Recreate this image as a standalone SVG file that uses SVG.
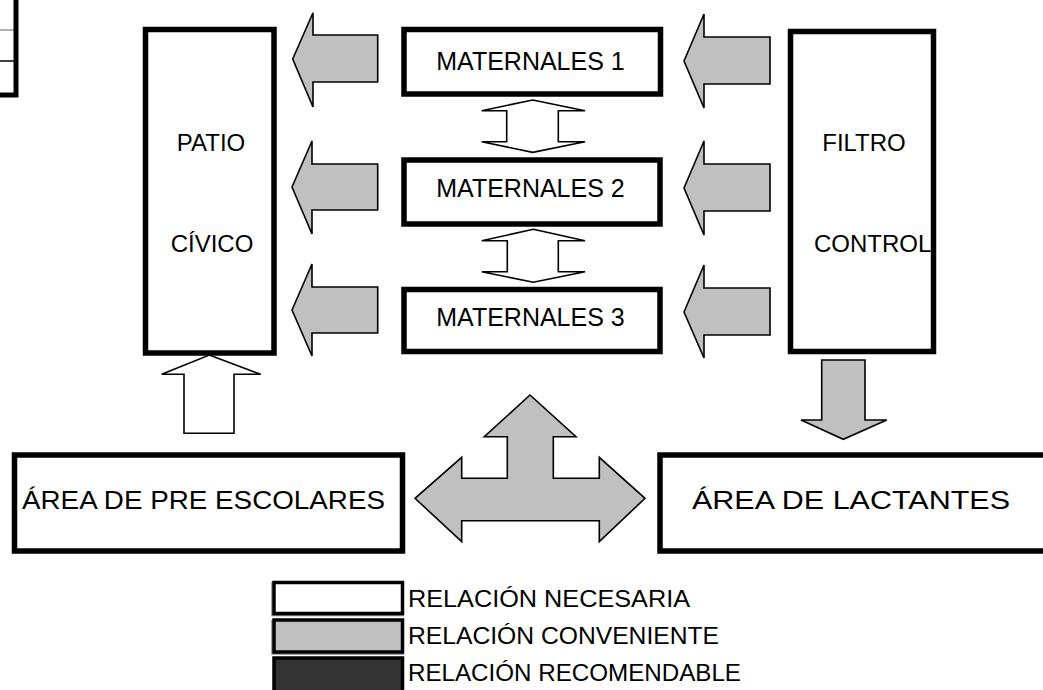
<svg xmlns="http://www.w3.org/2000/svg" width="1043" height="690" viewBox="0 0 1043 690">
<style>
.box{fill:#fff;stroke:#000;stroke-width:5.5}
.t{font-family:"Liberation Sans",Arial,sans-serif;font-size:24px;fill:#000}
.m{font-size:25px}
.b{font-size:25px}
.g{fill:#c0c0c0;stroke:#000;stroke-width:1.6;stroke-linejoin:miter}
.w{fill:#fff;stroke:#000;stroke-width:1.6}
.lt{font-family:"Liberation Sans",Arial,sans-serif;font-size:24px;fill:#000}
</style>
<rect width="1043" height="690" fill="#fff"/>
<g id="fragment">
<line x1="0" y1="30" x2="14" y2="30" stroke="#999" stroke-width="1.5"/>
<line x1="0" y1="61" x2="14" y2="61" stroke="#000" stroke-width="1.5"/>
<polyline points="16,0 16,95 0,95" fill="none" stroke="#000" stroke-width="5"/>
</g>
<g id="patio">
<rect class="box" x="145.5" y="29.5" width="128.5" height="323.5"/>
<text class="t" x="211" y="151" text-anchor="middle">PATIO</text>
<text class="t" x="212" y="252" text-anchor="middle">CÍVICO</text>
</g>
<g id="mat1">
<rect class="box" x="404" y="29.5" width="256.5" height="64.5"/>
<text class="t m" x="530.5" y="69.5" text-anchor="middle">MATERNALES 1</text>
</g>
<g id="mat2">
<rect class="box" x="404" y="160" width="256" height="64"/>
<text class="t m" x="530.5" y="197" text-anchor="middle">MATERNALES 2</text>
</g>
<g id="mat3">
<rect class="box" x="404" y="289.5" width="256" height="62"/>
<text class="t m" x="530.5" y="326" text-anchor="middle">MATERNALES 3</text>
</g>
<g id="filtro">
<rect class="box" x="790.5" y="31.5" width="143" height="320"/>
<text class="t" x="864" y="151" text-anchor="middle">FILTRO</text>
<text class="t" x="814" y="252">CONTROL</text>
</g>
<g id="preescolares">
<rect class="box" x="14.5" y="455" width="388" height="96"/>
<text class="t b" x="22" y="509" textLength="363" lengthAdjust="spacingAndGlyphs">ÁREA DE PRE ESCOLARES</text>
</g>
<g id="lactantes">
<rect class="box" x="660" y="455" width="390" height="96"/>
<text class="t b" x="692" y="509" textLength="318" lengthAdjust="spacingAndGlyphs">ÁREA DE LACTANTES</text>
</g>
<g id="connectors">
<polygon class="g" points="292.7,59 313,12.7 313,35 377.7,35 377.7,82 313,82 313,107"/>
<polygon class="g" points="292,187 312,141 312,164 377.7,164 377.7,210 312,210 312,234"/>
<polygon class="g" points="292,310 312,264 312,287 377.7,287 377.7,333 312,333 312,356"/>
<polygon class="g" points="684,61 704,14 704,37 770,37 770,84 704,84 704,108"/>
<polygon class="g" points="684,188 704,141 704,164 770,164 770,211 704,211 704,235"/>
<polygon class="g" points="684,312 704,265 704,288 770,288 770,335 704,335 704,358"/>
<polygon class="w" points="532.7,100 585,110.7 558.3,110.7 558.3,141.7 585,141.7 532.7,152.4 481.7,141.7 506.7,141.7 506.7,110.7 481.7,110.7"/>
<polygon class="w" points="533.3,229.3 585,240.7 558.3,240.7 558.3,271.7 585,271.7 533.3,282.3 481.7,271.7 507.3,271.7 507.3,240.7 481.7,240.7"/>
<polygon class="w" points="209.3,355 260.7,374.3 234,374.3 234,433.3 184,433.3 184,374.3 161.7,374.3"/>
<polygon class="g" points="821.7,360 865,360 865,420 886.7,420 843.3,439.3 801,420 821.7,420"/>
<polygon class="g" points="530,395 576,436.7 553.3,436.7 553.3,478.3 599.3,478.3 599.3,457.3 645,498.3 599.3,541.7 599.3,520.7 461.7,520.7 461.7,541.7 415,498.3 461.7,457.3 461.7,478.3 507.3,478.3 507.3,436.7 484.3,436.7"/>
</g>
<g id="legend">
<polyline points="272,582 272,615.5 404,615.5" fill="none" stroke="#888" stroke-width="1.5"/>
<polyline points="272,620 272,654 404,654" fill="none" stroke="#888" stroke-width="1.5"/>
<rect x="274" y="582.5" width="128.5" height="31" fill="#fff" stroke="#000" stroke-width="3.5"/>
<rect x="274" y="620" width="128.5" height="32" fill="#c0c0c0" stroke="#000" stroke-width="3.5"/>
<rect x="274" y="658" width="128.5" height="34" fill="#333" stroke="#000" stroke-width="3.5"/>
<text class="lt" x="408" y="607" textLength="282" lengthAdjust="spacingAndGlyphs">RELACIÓN NECESARIA</text>
<text class="lt" x="408" y="644" textLength="311" lengthAdjust="spacingAndGlyphs">RELACIÓN CONVENIENTE</text>
<text class="lt" x="408" y="681" textLength="333" lengthAdjust="spacingAndGlyphs">RELACIÓN RECOMENDABLE</text>
</g>
</svg>
